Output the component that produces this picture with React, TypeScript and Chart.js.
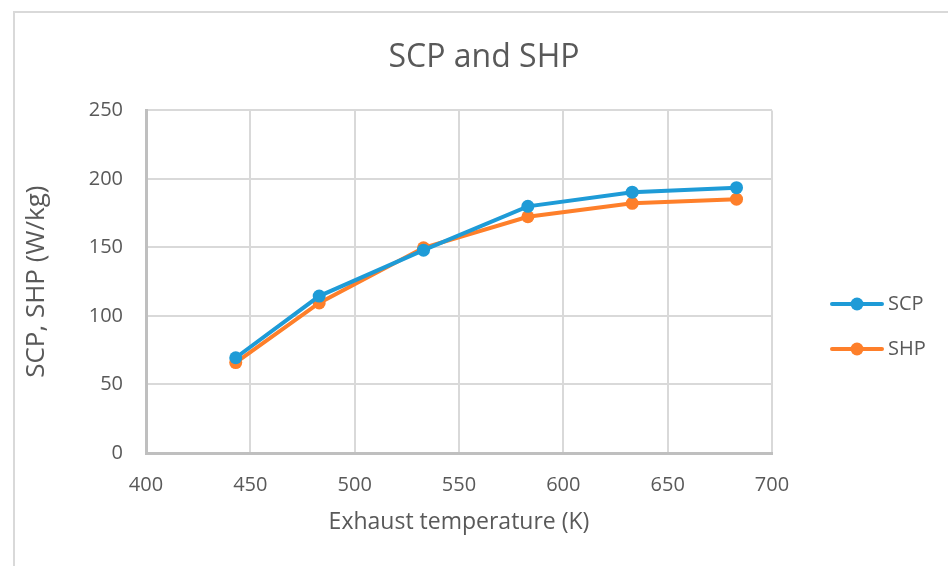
import React, { useEffect, useRef } from "react";
import { Chart, registerables } from "chart.js";

Chart.register(...registerables);

// Exhaust temperature (K)
const temperatures = [443, 483, 533, 583, 633, 683];
// Specific cooling power (W/kg)
const scpValues = [69.5, 114.5, 148, 180, 190.3, 193.6];
// Specific heating power (W/kg)
const shpValues = [66, 109.5, 149.7, 172.4, 182.2, 185.2];

const xTicks = [400, 450, 500, 550, 600, 650, 700];
const yTicks = [0, 50, 100, 150, 200, 250];

const BLUE = "#1e9bd7";
const ORANGE = "#fe7f2a";
const TEXT = "#595959";
const FONT = "'Open Sans', sans-serif";

// Legend marker: a short line with a dot in its middle
function makeLegendMarker(color: string): HTMLCanvasElement {
  const c = document.createElement("canvas");
  c.width = 93;
  c.height = 16;
  const ctx = c.getContext("2d")!;
  ctx.strokeStyle = color;
  ctx.lineWidth = 4;
  ctx.lineCap = "round";
  ctx.beginPath();
  ctx.moveTo(41, 8);
  ctx.lineTo(91, 8);
  ctx.stroke();
  ctx.fillStyle = color;
  ctx.beginPath();
  ctx.arc(66, 8, 6.5, 0, Math.PI * 2);
  ctx.fill();
  return c;
}

export default function App() {
  const canvasRef = useRef<HTMLCanvasElement | null>(null);

  useEffect(() => {
    if (!canvasRef.current) return;
    const markers = [makeLegendMarker(BLUE), makeLegendMarker(ORANGE)];
    const chart = new Chart(canvasRef.current, {
      type: "line",
      data: {
        datasets: [
          {
            label: "SCP",
            data: temperatures.map((t, i) => ({ x: t, y: scpValues[i] })),
            borderColor: BLUE,
            backgroundColor: BLUE,
            borderWidth: 4,
            pointRadius: 6.5,
            pointHoverRadius: 6.5,
            pointBorderWidth: 0,
            tension: 0,
          },
          {
            label: "SHP",
            data: temperatures.map((t, i) => ({ x: t, y: shpValues[i] })),
            borderColor: ORANGE,
            backgroundColor: ORANGE,
            borderWidth: 4,
            pointRadius: 6.5,
            pointHoverRadius: 6.5,
            pointBorderWidth: 0,
            tension: 0,
          },
        ],
      },
      options: {
        animation: false,
        responsive: false,
        layout: { padding: { left: 20, right: 0, top: 0, bottom: 24 } },
        plugins: {
          title: {
            display: true,
            text: "SCP and SHP",
            color: TEXT,
            font: { family: FONT, size: 32, weight: "normal" },
            padding: { top: 39, bottom: 33 },
          },
          legend: {
            display: true,
            position: "right",
            align: "center",
            // empty title only reserves space above the entries
            title: { display: true, text: "", font: { size: 10 }, padding: { top: 99, bottom: 0 } },
            labels: {
              usePointStyle: true,
              pointStyleWidth: 81,
              padding: 25,
              color: TEXT,
              font: { family: FONT, size: 20 },
              generateLabels: (ch: any) => {
                const items = Chart.defaults.plugins.legend.labels.generateLabels(ch);
                return items.map((it: any, i: number) => ({ ...it, pointStyle: markers[i] }));
              },
            },
          },
          tooltip: { enabled: false },
        },
        scales: {
          x: {
            type: "linear",
            min: xTicks[0],
            max: xTicks[xTicks.length - 1],
            afterBuildTicks: (s: any) => {
              s.ticks = xTicks.map((v) => ({ value: v }));
            },
            afterFit: (s: any) => {
              s.height = 89;
              s.paddingRight = 176;
            },
            ticks: {
              color: TEXT,
              font: { family: FONT, size: 20 },
              padding: 20,
              maxRotation: 0,
            },
            grid: { color: "#d9d9d9", lineWidth: 2, drawTicks: false },
            border: { color: "#bfbfbf", width: 3 },
            title: {
              display: true,
              text: "Exhaust temperature (K)",
              color: TEXT,
              font: { family: FONT, size: 23 },
              padding: { top: 0, bottom: 6 },
            },
          },
          y: {
            type: "linear",
            min: yTicks[0],
            max: yTicks[yTicks.length - 1],
            afterBuildTicks: (s: any) => {
              s.ticks = yTicks.map((v) => ({ value: v }));
            },
            afterFit: (s: any) => {
              s.width = 126;
            },
            ticks: {
              color: TEXT,
              font: { family: FONT, size: 20 },
              padding: 23,
            },
            grid: { color: "#d9d9d9", lineWidth: 2, drawTicks: false },
            border: { color: "#bfbfbf", width: 3 },
            title: {
              display: true,
              text: "SCP, SHP (W/kg)",
              color: TEXT,
              font: { family: FONT, size: 26 },
              padding: { top: 1, bottom: 0 },
            },
          },
        },
      },
    });
    return () => chart.destroy();
  }, []);

  return (
    <div style={{ position: "absolute", left: 0, top: 0, width: 948, height: 566, background: "#ffffff", overflow: "hidden" }}>
      <div
        style={{
          position: "absolute",
          left: 13,
          top: 11,
          width: 948,
          height: 566,
          borderLeft: "2px solid #d9d9d9",
          borderTop: "2px solid #d9d9d9",
        }}
      />
      <canvas ref={canvasRef} width={948} height={566} style={{ position: "absolute", left: 0, top: 0 }} />
    </div>
  );
}
